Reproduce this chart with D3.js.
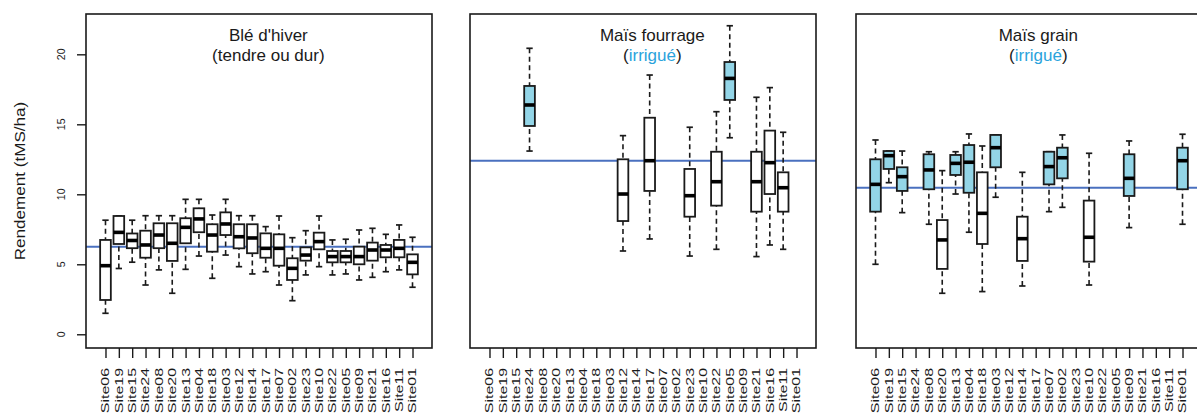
<!DOCTYPE html>
<html><head><meta charset="utf-8">
<script src="https://cdn.jsdelivr.net/npm/d3@7"></script>
<style>
body{margin:0;background:#fff}
svg{display:block;font-family:"Liberation Sans",Arial,Helvetica,sans-serif}
</style>
</head><body><svg id="c" width="1197" height="414"></svg>
<script>
// ---- DATA ----
const sites = ["Site06","Site19","Site15","Site24","Site08","Site20","Site13","Site04","Site18","Site03","Site12","Site14",
               "Site17","Site07","Site02","Site23","Site10","Site22","Site05","Site09","Site21","Site16","Site11","Site01"];
const yTicks = [0, 5, 10, 15, 20];
const yLabel = "Rendement (tMS/ha)";
// each entry: [lower whisker, Q1, median, Q3, upper whisker] (null = no data)
const bleStats = [
  [1.5,2.45,4.9,6.74,8.15],[4.7,6.45,7.28,8.45,8.45],[5.15,6.15,6.7,7.2,8.15],[3.52,5.47,6.38,7.4,8.47],
  [4.6,6.15,7.09,7.93,8.47],[2.93,5.24,6.5,7.93,8.47],[4.64,6.5,7.64,8.29,9.64],[5.59,7.29,8.24,9.0,9.64],
  [4.0,5.9,7.09,7.86,8.52],[5.66,7.09,7.88,8.71,9.64],[4.83,6.14,6.97,7.86,8.47],[4.31,5.79,6.88,7.86,8.47],
  [4.47,5.47,6.14,7.21,7.69],[3.52,4.9,6.14,7.14,8.45],[2.4,3.88,4.71,5.43,6.9],[4.24,5.26,5.66,6.21,7.4],
  [4.83,6.07,6.62,7.26,8.45],[4.24,5.14,5.55,5.95,6.74],[4.31,5.14,5.55,5.95,6.79],[3.88,5.0,5.55,6.26,7.45],
  [4.07,5.26,6.02,6.55,7.57],[4.47,5.5,6.02,6.38,7.14],[4.6,5.5,6.14,6.74,7.81],[3.36,4.28,5.14,5.71,6.93]
];
const bleIrrigated = [];
const maisFourrageStats = [
  null,null,null,[13.09,14.88,16.38,17.74,20.43],null,null,null,null,null,null,
  [5.95,8.09,10.02,12.5,14.19],null,[6.81,10.24,12.4,15.47,18.52],null,null,[5.59,8.4,9.9,11.81,14.79],
  null,[6.07,9.19,10.9,13.04,15.9],[14.04,16.74,18.28,19.45,22.04],null,[5.55,8.76,10.9,13.04,16.93],
  [6.38,10.02,12.26,14.55,17.62],[6.07,8.76,10.47,11.57,14.43],null
];
const maisFourrageIrrigated = ["Site24","Site05"];
const maisGrainStats = [
  [5.0,8.76,10.71,12.5,13.88],[10.83,11.81,12.76,13.09,13.09],[8.69,10.24,11.26,11.93,13.09],null,
  [7.86,10.36,11.74,12.86,13.04],[2.93,4.67,6.74,8.16,11.69],[10.02,11.38,12.21,12.81,13.04],[7.29,10.11,12.29,13.52,14.31],
  [3.05,6.45,8.64,11.57,13.45],[9.79,11.93,13.33,14.24,14.24],null,[3.45,5.24,6.83,8.4,11.57],
  null,[8.76,10.71,11.98,13.04,13.04],[9.07,11.14,12.61,13.33,14.24],null,
  [3.52,5.19,6.93,9.55,12.93],null,null,[7.62,9.88,11.14,12.86,13.81],
  null,null,null,[7.86,10.36,12.4,13.33,14.29]
];
const maisGrainIrrigated = ["Site06","Site19","Site15","Site08","Site13","Site04","Site03","Site07","Site02","Site09","Site01"];
const refLines = [6.26, 12.4, 10.47];
const titleLine1 = ["Blé d'hiver", "Maïs fourrage", "Maïs grain"];
const titleLine2 = ["tendre ou dur", "irrigué", "irrigué"];

// ---- STYLE / LAYOUT ----
const panelX = [86, 470, 856], panelW = 346, plotTop = 14, plotBottom = 348;
const fillIrr = "#93d5e7", lineBlue = "#4a70bf", irrText = "#2aa3dc", ink = "#1a1a1a";

const svg = d3.select("#c");
const y = d3.scaleLinear().domain([-0.98, 22.88]).range([plotBottom, plotTop]);

const panels = [
  {stats: bleStats, irr: bleIrrigated, colored: false},
  {stats: maisFourrageStats, irr: maisFourrageIrrigated, colored: true},
  {stats: maisGrainStats, irr: maisGrainIrrigated, colored: true}
];

panels.forEach((p, pi) => {
  const x = d3.scaleLinear().domain([-0.46, 25.46]).range([panelX[pi], panelX[pi] + panelW]);
  const u = x(1) - x(0);
  const bw = 0.8 * u, cw = 0.4 * u;
  const g = svg.append("g");

  // x axis ticks + labels
  const xa = d3.axisBottom(x).tickValues(d3.range(1, 25)).tickSize(10).tickFormat("");
  const ax = g.append("g").attr("transform", `translate(0,${plotBottom})`).call(xa);
  ax.select(".domain").remove();
  ax.selectAll("line").attr("stroke", ink).attr("stroke-width", 1.4);
  g.selectAll("text.xl").data(sites).enter().append("text")
    .attr("class", "xl")
    .attr("transform", (d, i) => `translate(${x(i + 1)},368) rotate(-90) scale(1.45,1)`)
    .attr("text-anchor", "end").attr("dy", "0.36em")
    .attr("font-size", 11).attr("fill", ink).text(d => d);

  // reference line
  g.append("line").attr("x1", x.range()[0]).attr("x2", x.range()[1])
    .attr("y1", y(refLines[pi])).attr("y2", y(refLines[pi]))
    .attr("stroke", lineBlue).attr("stroke-width", 2);

  // boxes
  const data = p.stats.map((s, i) => ({s, i, site: sites[i]})).filter(d => d.s);
  const bx = g.selectAll("g.box").data(data).enter().append("g").attr("class", "box");
  bx.append("line").attr("x1", d => x(d.i + 1)).attr("x2", d => x(d.i + 1))
    .attr("y1", d => y(d.s[0])).attr("y2", d => y(d.s[1]))
    .attr("stroke", ink).attr("stroke-width", 1.6).attr("stroke-dasharray", "5,3.5");
  bx.append("line").attr("x1", d => x(d.i + 1)).attr("x2", d => x(d.i + 1))
    .attr("y1", d => y(d.s[4])).attr("y2", d => y(d.s[3]))
    .attr("stroke", ink).attr("stroke-width", 1.6).attr("stroke-dasharray", "5,3.5");
  [0, 4].forEach(k => {
    bx.append("line").attr("x1", d => x(d.i + 1) - cw / 2 - 0.5).attr("x2", d => x(d.i + 1) + cw / 2 + 0.5)
      .attr("y1", d => y(d.s[k])).attr("y2", d => y(d.s[k]))
      .attr("stroke", ink).attr("stroke-width", 1.7);
  });
  bx.append("rect").attr("x", d => x(d.i + 1) - bw / 2).attr("width", bw)
    .attr("y", d => y(d.s[3])).attr("height", d => y(d.s[1]) - y(d.s[3]))
    .attr("fill", d => p.irr.includes(d.site) ? fillIrr : "#fff")
    .attr("stroke", ink).attr("stroke-width", 1.8);
  bx.append("line").attr("x1", d => x(d.i + 1) - bw / 2).attr("x2", d => x(d.i + 1) + bw / 2)
    .attr("y1", d => y(d.s[2])).attr("y2", d => y(d.s[2]))
    .attr("stroke", "#000").attr("stroke-width", 3.6);

  // frame
  g.append("rect").attr("x", x.range()[0]).attr("y", plotTop).attr("width", panelW).attr("height", plotBottom - plotTop)
    .attr("fill", "none").attr("stroke", ink).attr("stroke-width", 1.6);

  // title
  const tx = x(13.2);
  g.append("text").attr("x", tx).attr("y", 41).attr("text-anchor", "middle")
    .attr("font-size", 17).attr("fill", ink).text(titleLine1[pi]);
  const t2 = g.append("text").attr("x", tx).attr("y", 61).attr("text-anchor", "middle")
    .attr("font-size", 17).attr("fill", ink);
  t2.append("tspan").text("(");
  t2.append("tspan").attr("fill", p.colored ? irrText : ink).text(titleLine2[pi]);
  t2.append("tspan").text(")");

  if (pi === 0) {
    const ya = d3.axisLeft(y).tickValues(yTicks).tickSize(9).tickFormat("");
    const ay = g.append("g").attr("transform", `translate(${x.range()[0]},0)`).call(ya);
    ay.select(".domain").remove();
    ay.selectAll("line").attr("stroke", ink).attr("stroke-width", 1.4);
    g.selectAll("text.yl").data(yTicks).enter().append("text").attr("class", "yl")
      .attr("transform", d => `translate(61,${y(d)}) rotate(-90)`)
      .attr("text-anchor", "middle").attr("dy", "0.36em")
      .attr("font-size", 10.5).attr("fill", ink).text(d => d);
    g.append("text").attr("transform", `translate(20,${(plotTop + plotBottom) / 2}) rotate(-90) scale(1.22,1)`)
      .attr("text-anchor", "middle").attr("dy", "0.36em")
      .attr("font-size", 14).attr("fill", ink).text(yLabel);
  }
});
</script>
</body></html>
